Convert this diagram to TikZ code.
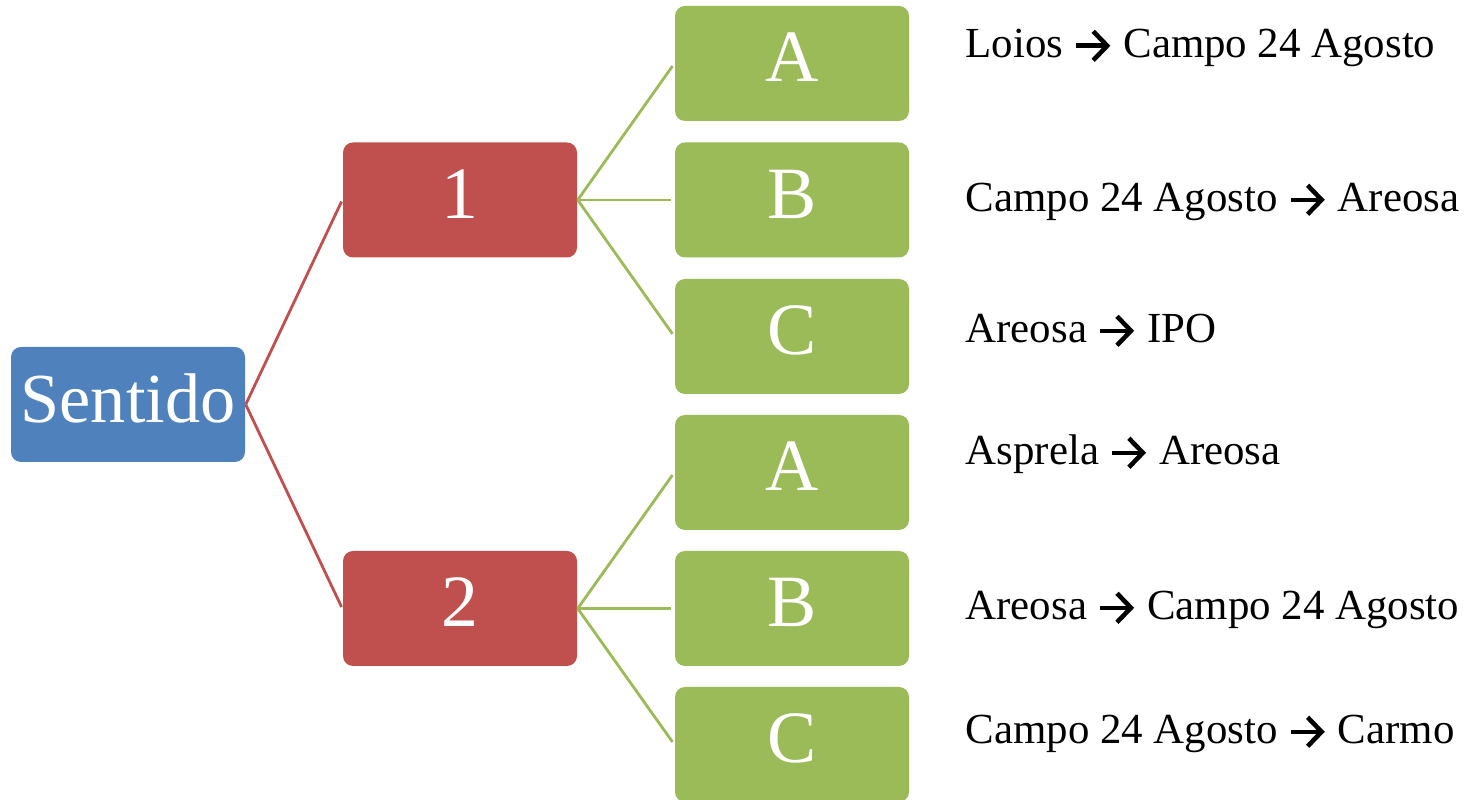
\documentclass[tikz,border=0pt]{standalone}
\usepackage{fontspec}
\setmainfont{Liberation Serif}
\usepackage{tikz}
\usetikzlibrary{arrows.meta}

\definecolor{rootblue}{HTML}{4F81BD}
\definecolor{lvlred}{HTML}{C0504D}
\definecolor{leafgreen}{HTML}{9BBB59}

% bold arrow used inside the route texts
\newcommand{\toarrow}{\tikz[baseline=-0.62ex]\draw[line width=1.3pt, -{Straight Barb[length=1.4mm, width=2.9mm, line width=1.3pt]}] (0,0) -- (0.34,0);}

\tikzset{
    box/.style={rectangle, rounded corners=1mm, minimum width=2.34cm, minimum height=1.15cm,
        text=white, inner sep=0pt},
    root/.style={box, fill=rootblue, font=\fontsize{20}{24}\selectfont,
        text height=13.5pt, text depth=3pt},
    lvl/.style={box, fill=lvlred, font=\fontsize{21}{25}\selectfont,
        text height=14pt, text depth=3.5pt},
    leaf/.style={box, fill=leafgreen, font=\fontsize{21}{25}\selectfont,
        text height=14pt, text depth=3.5pt},
    route/.style={anchor=base west, inner sep=0pt, font=\fontsize{12.2}{14}\selectfont},
    redlink/.style={lvlred, line width=0.8pt, shorten >=0.5pt},
    greenlink/.style={leafgreen, line width=0.8pt, shorten >=0.9pt}
}

\begin{document}
\begin{tikzpicture}
    \useasboundingbox (0,0) rectangle (14.7,8);

    % --- Root ---
    \node[root] (sentido) at (1.28, 3.955) {Sentido};

    % --- Directions ---
    \node[lvl] (dir1) at (4.60, 6.0) {1};
    \node[lvl] (dir2) at (4.60, 1.915) {2};

    % --- Segments ---
    \node[leaf] (a1) at (7.92, 7.365) {A};
    \node[leaf] (b1) at (7.92, 6.0) {B};
    \node[leaf] (c1) at (7.92, 4.635) {C};
    \node[leaf] (a2) at (7.92, 3.275) {A};
    \node[leaf] (b2) at (7.92, 1.915) {B};
    \node[leaf] (c2) at (7.92, 0.555) {C};

    % --- Connectors ---
    \draw[redlink] (sentido.east) -- (dir1.west);
    \draw[redlink] (sentido.east) -- (dir2.west);
    \foreach \leaf in {a1, b1, c1}
        \draw[greenlink] (dir1.east) -- (\leaf.west);
    \foreach \leaf in {a2, b2, c2}
        \draw[greenlink] (dir2.east) -- (\leaf.west);

    % --- Routes ---
    \node[route] (r1) at (9.65, 7.42) {Loios \toarrow{} Campo 24 Agosto};
    \node[route] (r2) at (9.65, 5.88) {Campo 24 Agosto \toarrow{} Areosa};
    \node[route] (r3) at (9.65, 4.57) {Areosa \toarrow{} IPO};
    \node[route] (r4) at (9.65, 3.35) {Asprela \toarrow{} Areosa};
    \node[route] (r5) at (9.65, 1.80) {Areosa \toarrow{} Campo 24 Agosto};
    \node[route] (r6) at (9.65, 0.56) {Campo 24 Agosto \toarrow{} Carmo};
\end{tikzpicture}
\end{document}
